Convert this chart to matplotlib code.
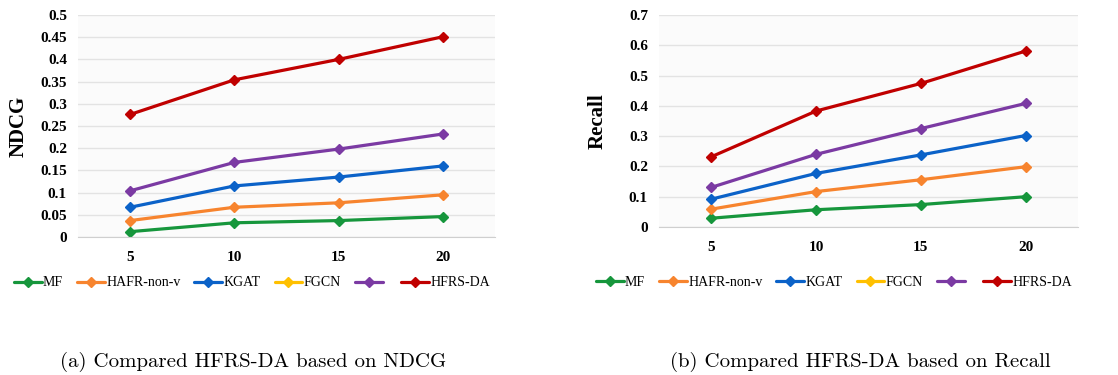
import numpy as np
import matplotlib
matplotlib.use("Agg")
import matplotlib.pyplot as plt

# top-k values on the x axis
k_values = ["5", "10", "15", "20"]

series_names = ["MF", "HAFR-non-v", "KGAT", "FGCN", " ", "HFRS-DA"]
series_colors = ["#16963c", "#f7842e", "#0b62c8", "#ffc000", "#7b3aa3", "#c00000"]

# NDCG values
ndcg_mf = [0.012, 0.032, 0.037, 0.046]
ndcg_hafr = [0.037, 0.067, 0.077, 0.095]
ndcg_kgat = [0.067, 0.115, 0.135, 0.160]
ndcg_fgcn = [np.nan, np.nan, np.nan, np.nan]   # in legend only, no line drawn
ndcg_purple = [0.104, 0.168, 0.198, 0.232]
ndcg_hfrs = [0.276, 0.354, 0.400, 0.451]

# Recall values
recall_mf = [0.029, 0.057, 0.074, 0.100]
recall_hafr = [0.059, 0.117, 0.156, 0.199]
recall_kgat = [0.092, 0.177, 0.238, 0.302]
recall_fgcn = [np.nan, np.nan, np.nan, np.nan]
recall_purple = [0.131, 0.240, 0.325, 0.408]
recall_hfrs = [0.232, 0.383, 0.474, 0.581]

ndcg_ticks = [0, 0.05, 0.1, 0.15, 0.2, 0.25, 0.3, 0.35, 0.4, 0.45, 0.5]
recall_ticks = [0, 0.1, 0.2, 0.3, 0.4, 0.5, 0.6, 0.7]

SERIF = "Liberation Serif"
W, H = 1118, 375

fig = plt.figure(figsize=(W / 100, H / 100), dpi=100)


def draw_panel(rect, data, ticks, ylabel, ylabel_x, legend_x, legend_y,
               caption, caption_x):
    ax = fig.add_axes(rect)
    x = np.arange(len(k_values))
    for vals, name, col in zip(data, series_names, series_colors):
        ax.plot(x, vals, color=col, lw=2.3, marker="D", ms=5.5,
                label=name, solid_capstyle="round")
    ax.set_xlim(-0.5, len(k_values) - 0.5)
    ax.set_ylim(ticks[0], ticks[-1])
    ax.set_yticks(ticks)
    ax.set_yticklabels([f"{t:g}" for t in ticks])
    ax.set_xticks(x)
    ax.set_xticklabels(k_values)
    ax.set_facecolor("#fbfbfb")
    ax.grid(axis="y", color="#e3e3e3", lw=1.0)
    ax.set_axisbelow(True)
    for s in ["top", "right", "left"]:
        ax.spines[s].set_visible(False)
    ax.spines["bottom"].set_color("#cfcfcf")
    ax.tick_params(length=0)
    ax.tick_params(axis="y", pad=8)
    ax.tick_params(axis="x", pad=10)
    for lab in ax.get_xticklabels() + ax.get_yticklabels():
        lab.set_fontfamily(SERIF)
        lab.set_fontweight("bold")
        lab.set_fontsize(11)
    ax.set_ylabel(ylabel, fontfamily=SERIF, fontweight="bold", fontsize=15)
    # label anchor is its right edge in the rotated frame
    ax.yaxis.set_label_coords((ylabel_x + 9) / W, 0.5,
                              transform=fig.transFigure)
    ax.yaxis.label.set_transform(matplotlib.transforms.blended_transform_factory(
        fig.transFigure, ax.transAxes))

    handles, labels = ax.get_legend_handles_labels()
    fig.legend(handles, labels, loc="center", ncol=6,
               bbox_to_anchor=(legend_x / W, 1 - legend_y / H),
               frameon=False, handlelength=2.0, handletextpad=0.1,
               columnspacing=1.0, markerscale=0.85,
               prop={"family": SERIF, "size": 10})

    fig.text(caption_x / W, 1 - 362 / H, caption, ha="center", va="center",
             fontfamily="cmr10", fontsize=15)
    return ax


draw_panel([78 / W, 1 - 237 / H, 417 / W, 222 / H],
           [ndcg_mf, ndcg_hafr, ndcg_kgat, ndcg_fgcn, ndcg_purple, ndcg_hfrs],
           ndcg_ticks, "NDCG", 20, 252, 283,
           "(a) Compared HFRS-DA based on NDCG", 253)

draw_panel([659 / W, 1 - 227 / H, 419 / W, 212 / H],
           [recall_mf, recall_hafr, recall_kgat, recall_fgcn, recall_purple, recall_hfrs],
           recall_ticks, "Recall", 599, 834, 282,
           "(b) Compared HFRS-DA based on Recall", 860)

fig.savefig("out.png", dpi=100)
